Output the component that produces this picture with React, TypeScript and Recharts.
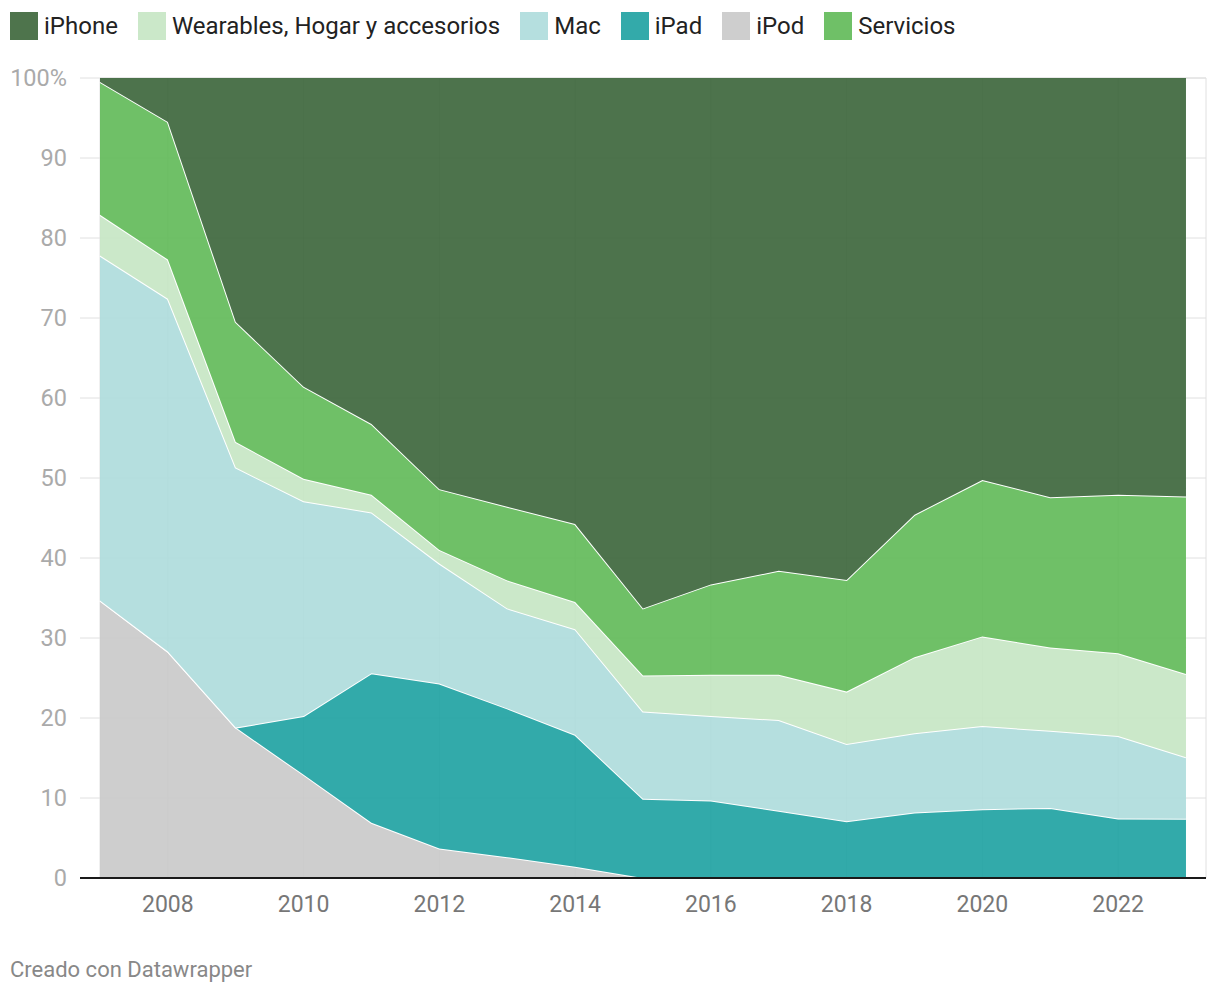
import React from 'react';
import { AreaChart, Area, XAxis, YAxis, CartesianGrid, ReferenceLine } from 'recharts';

// Share of Apple revenue by product line, % of total
const years = [2007, 2008, 2009, 2010, 2011, 2012, 2013, 2014, 2015, 2016, 2017, 2018, 2019, 2020, 2021, 2022, 2023];
const ipod = [34.7, 28.3, 18.8, 12.9, 6.9, 3.7, 2.6, 1.4, 0, 0, 0, 0, 0, 0, 0, 0, 0];
const ipad = [0, 0, 0, 7.35, 18.7, 20.6, 18.6, 16.5, 9.9, 9.7, 8.4, 7.1, 8.2, 8.6, 8.75, 7.45, 7.4];
const mac = [43.1, 44.1, 32.5, 26.85, 20.1, 15.0, 12.5, 13.2, 10.9, 10.55, 11.35, 9.65, 9.9, 10.4, 9.65, 10.3, 7.7];
const wearables = [5.1, 4.9, 3.2, 2.8, 2.2, 1.7, 3.5, 3.4, 4.5, 5.15, 5.65, 6.55, 9.5, 11.2, 10.4, 10.35, 10.4];
const servicios = [16.6, 17.2, 15.0, 11.5, 8.85, 7.6, 9.2, 9.75, 8.4, 11.3, 13.0, 13.95, 17.8, 19.55, 18.8, 19.8, 22.2];
const iphone = [0.5, 5.5, 30.5, 38.6, 43.25, 51.4, 53.6, 55.75, 66.3, 63.3, 61.6, 62.75, 54.6, 50.25, 52.4, 52.1, 52.3];

const xTicks = [2008, 2010, 2012, 2014, 2016, 2018, 2020, 2022];
const yTicks = [0, 10, 20, 30, 40, 50, 60, 70, 80, 90, 100];

// legend order as shown at the top
const legendItems = [
  { label: 'iPhone', color: '#4e744c' },
  { label: 'Wearables, Hogar y accesorios', color: '#cbe8c9' },
  { label: 'Mac', color: '#b5dfdf' },
  { label: 'iPad', color: '#33aaaa' },
  { label: 'iPod', color: '#cecece' },
  { label: 'Servicios', color: '#6fc067' },
];

const data = years.map((year, i) => ({
  year,
  ipod: ipod[i],
  ipad: ipad[i],
  mac: mac[i],
  wearables: wearables[i],
  servicios: servicios[i],
  iphone: iphone[i],
}));

const FONT = 'Roboto, sans-serif';
const GRID = '#e0e0e0';

// grid runs ~20px past the last year, like the datawrapper original
const X_DOMAIN = [2007, 2023.295];

const LeftTick = (props: any) => {
  const { x, y, payload } = props;
  const v = payload.value;
  return (
    <g>
      <line x1={x - 20} x2={x} y1={y} y2={y} stroke={v === 0 ? '#1a1a1a' : GRID} strokeWidth={v === 0 ? 2 : 1} />
      <text x={x - 33} y={y} dy="0.36em" textAnchor="end" fill="#aaaaaa" fontSize={23.5} fontFamily={FONT}>
        {v === 100 ? '100%' : v}
      </text>
    </g>
  );
};

const App: React.FC = () => {
  return (
    <div style={{ position: 'absolute', left: 0, top: 0, width: 1220, height: 994, background: '#fff', fontFamily: FONT }}>
      {/* legend */}
      <div style={{ position: 'absolute', left: 10, top: 12, display: 'flex', alignItems: 'center', height: 28 }}>
        {legendItems.map(item => (
          <div key={item.label} style={{ display: 'flex', alignItems: 'center', marginRight: 20 }}>
            <div style={{ width: 28, height: 28, background: item.color, marginRight: 6 }} />
            <span style={{ fontSize: 24, color: '#222', lineHeight: '28px' }}>{item.label}</span>
          </div>
        ))}
      </div>

      <div style={{ position: 'absolute', left: 0, top: 0 }}>
        <AreaChart width={1220} height={994} data={data} margin={{ top: 78, right: 14, left: 0, bottom: 76 }}>
          <CartesianGrid stroke={GRID} strokeWidth={1} horizontal={true} vertical={true} />
          <XAxis
            dataKey="year"
            type="number"
            domain={X_DOMAIN}
            ticks={xTicks}
            tickLine={false}
            axisLine={false}
            tickSize={0}
            tickMargin={18}
            height={40}
            tick={{ fill: '#777777', fontSize: 23, fontFamily: FONT }}
          />
          <YAxis
            width={100}
            domain={[0, 100]}
            ticks={yTicks}
            tickLine={false}
            axisLine={false}
            tickSize={0}
            tickMargin={0}
            tick={<LeftTick />}
            interval={0}
          />
          <Area type="linear" dataKey="ipod" stackId="a" fill="#c9c9c9" fillOpacity={0.9} stroke="#fff" strokeWidth={2} dot={false} activeDot={false} isAnimationActive={false} />
          <Area type="linear" dataKey="ipad" stackId="a" fill="#1ca1a1" fillOpacity={0.9} stroke="#fff" strokeWidth={2} dot={false} activeDot={false} isAnimationActive={false} />
          <Area type="linear" dataKey="mac" stackId="a" fill="#addbdb" fillOpacity={0.9} stroke="#fff" strokeWidth={2} dot={false} activeDot={false} isAnimationActive={false} />
          <Area type="linear" dataKey="wearables" stackId="a" fill="#c5e5c3" fillOpacity={0.9} stroke="#fff" strokeWidth={2} dot={false} activeDot={false} isAnimationActive={false} />
          <Area type="linear" dataKey="servicios" stackId="a" fill="#5fb956" fillOpacity={0.9} stroke="#fff" strokeWidth={2} dot={false} activeDot={false} isAnimationActive={false} />
          <Area type="linear" dataKey="iphone" stackId="a" fill="#3a6438" fillOpacity={0.9} stroke="none" dot={false} activeDot={false} isAnimationActive={false} />
          {/* dark baseline at zero */}
          <ReferenceLine y={0} stroke="#1a1a1a" strokeWidth={2} />
        </AreaChart>
      </div>

      <div style={{ position: 'absolute', left: 10, top: 956, fontSize: 22, color: '#888', lineHeight: '28px' }}>
        Creado con Datawrapper
      </div>
    </div>
  );
};

export default App;
